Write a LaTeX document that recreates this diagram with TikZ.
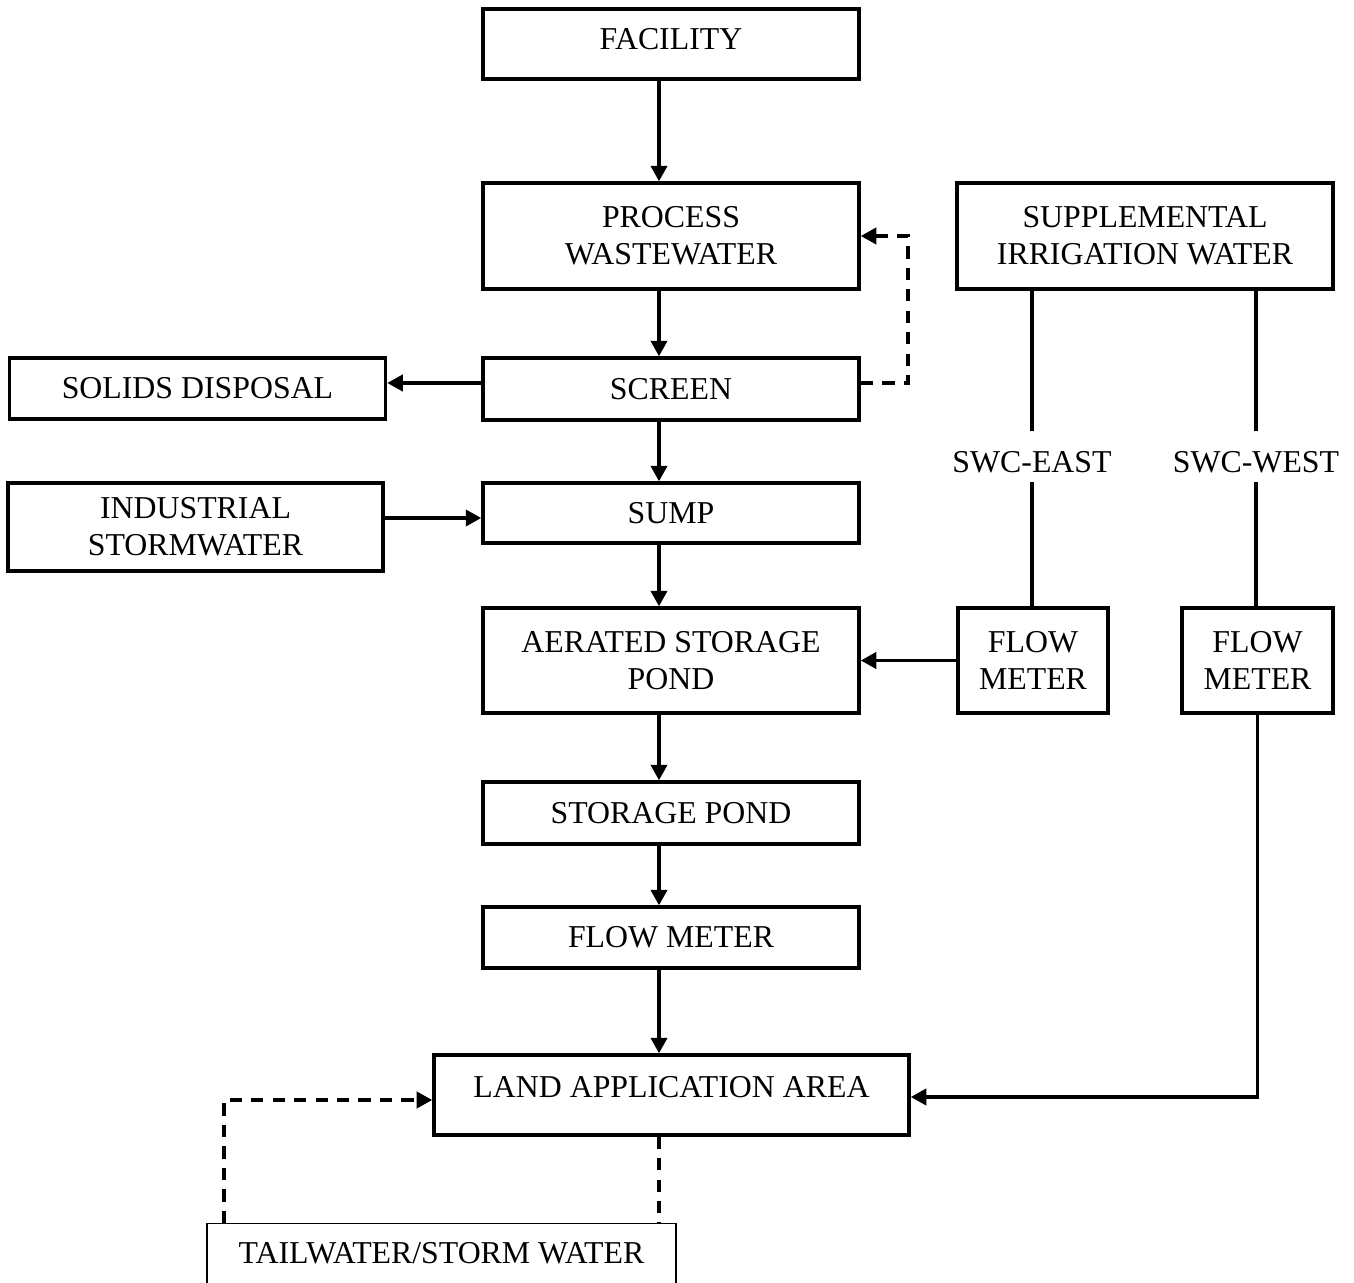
\documentclass[tikz,border=0pt]{standalone}
\usepackage{fontspec}
\setmainfont{Liberation Serif}
\usetikzlibrary{arrows.meta}

\begin{document}
\begin{tikzpicture}[
    x=0.01cm, y=-0.01cm,
    every node/.style={font=\fontsize{9.05}{10.6}\selectfont},
    box/.style={draw, line width=0.95pt, align=center, minimum width=#1, inner sep=1pt},
    box/.default=3.76cm,
    flow/.style={line width=0.95pt, -{Triangle[length=4.4pt, width=4.6pt]}},
    feed/.style={flow, dash pattern=on 3.5pt off 2.6pt},
    pipe/.style={line width=0.95pt}
]
\useasboundingbox (0,0) rectangle (1354,1283);

% main treatment line
\node[box, minimum height=0.70cm, text height=6.1pt, text depth=2.7pt] (facility) at (671,44) {FACILITY};
\node[box, minimum height=1.06cm] (process) at (671,236) {PROCESS\\WASTEWATER};
\node[box, minimum height=0.62cm] (screen) at (671,389) {SCREEN};
\node[box, minimum height=0.60cm] (sump) at (671,513) {SUMP};
\node[box, minimum height=1.05cm] (aerated) at (671,660.5) {AERATED STORAGE\\POND};
\node[box, minimum height=0.62cm] (storage) at (671,813) {STORAGE POND};
\node[box, minimum height=0.61cm] (meter) at (671,937.5) {FLOW METER};
\node[box=4.75cm, minimum height=0.80cm, text height=6.1pt, text depth=4.7pt] (land) at (671.5,1095) {LAND APPLICATION AREA};

% side inputs and outputs
\node[box, minimum height=0.61cm] (solids) at (197.5,388.5) {SOLIDS DISPOSAL};
\node[box=3.75cm, minimum height=0.88cm] (industrial) at (195.5,527) {INDUSTRIAL\\STORMWATER};
\node[draw, line width=0.4pt, minimum width=4.69cm, minimum height=0.80cm, anchor=north,
      text height=6.1pt, text depth=6.4pt] (tail) at (441.5,1223) {TAILWATER/STORM WATER};

% supplemental water
\node[box, minimum height=1.06cm] (supp) at (1145,236) {SUPPLEMENTAL\\IRRIGATION WATER};
\node (swcE) at (1032,462) {SWC-EAST};
\node (swcW) at (1256,462) {SWC-WEST};
\node[box=1.50cm, minimum height=1.05cm] (fmEast) at (1033,660.5) {FLOW\\METER};
\node[box=1.51cm, minimum height=1.05cm] (fmWest) at (1257.5,660.5) {FLOW\\METER};

\coordinate (axis) at (659,0);
\coordinate (loop) at (908,0);
\coordinate (tx) at (224,0);

% Arrows
\draw[flow] (facility.south -| axis) -- (process.north -| axis);
\draw[flow] (process.south -| axis) -- (screen.north -| axis);
\draw[flow] (screen.south -| axis) -- (sump.north -| axis);
\draw[flow] (sump.south -| axis) -- (aerated.north -| axis);
\draw[flow] (aerated.south -| axis) -- (storage.north -| axis);
\draw[flow] (storage.south -| axis) -- (meter.north -| axis);
\draw[flow] (meter.south -| axis) -- (land.north -| axis);

\draw[flow] ([yshift=0.06cm]screen.west) -- ([yshift=0.06cm]screen.west -| solids.east);
\draw[flow] ([yshift=-0.05cm]sump.west -| industrial.east) -- ([yshift=-0.05cm]sump.west);
\draw[feed] ([yshift=0.06cm]screen.east) -- ([yshift=0.06cm]screen.east -| loop) |- (process.east);

\draw[pipe] (supp.south -| swcE) -- ([yshift=0.31cm]swcE.center);
\draw[pipe] ([yshift=-0.20cm]swcE.center) -- (fmEast.north -| swcE);
\draw[pipe] (supp.south -| swcW) -- ([yshift=0.31cm]swcW.center);
\draw[pipe] ([yshift=-0.20cm]swcW.center) -- (fmWest.north -| swcW);
\draw[flow] (fmEast.west) -- (aerated.east);
\draw[flow] (fmWest.south) |- ([yshift=-0.02cm]land.east);

% tailwater return
\draw[feed, -] (land.south -| axis) -- (tail.north -| axis);
\draw[feed] (tail.north -| tx) |- ([yshift=-0.05cm]land.west);

\end{tikzpicture}
\end{document}
